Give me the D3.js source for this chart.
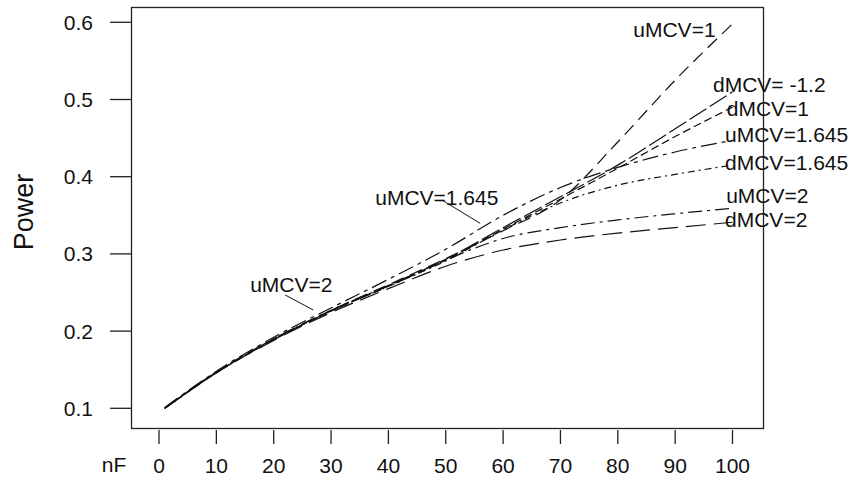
<!DOCTYPE html>
<html>
<head>
<meta charset="utf-8">
<script src="https://cdn.jsdelivr.net/npm/d3@7"></script>
<style>
  body { margin: 0; background: #fff; }
  svg text { font-family: "Liberation Sans", Arial, sans-serif; fill: #111; }
</style>
</head>
<body>
<svg id="chart" width="857" height="481"></svg>
<script>
// x positions (nF) shared by every series
const nF = [1, 10, 20, 30, 40, 50, 60, 70, 80, 90, 100];

// power values
const uMCV1    = [0.100, 0.147, 0.190, 0.227, 0.260, 0.294, 0.330, 0.370, 0.445, 0.525, 0.598];
const dMCVm12  = [0.100, 0.146, 0.189, 0.226, 0.259, 0.293, 0.334, 0.374, 0.415, 0.462, 0.510];
const dMCV1    = [0.100, 0.146, 0.189, 0.226, 0.258, 0.292, 0.332, 0.371, 0.411, 0.452, 0.490];
const uMCV1645 = [0.101, 0.148, 0.192, 0.230, 0.267, 0.306, 0.350, 0.386, 0.412, 0.432, 0.447];
const dMCV1645 = [0.100, 0.146, 0.189, 0.226, 0.258, 0.291, 0.331, 0.366, 0.389, 0.403, 0.415];
const uMCV2    = [0.100, 0.147, 0.190, 0.227, 0.259, 0.292, 0.320, 0.334, 0.344, 0.352, 0.359];
const dMCV2    = [0.100, 0.146, 0.188, 0.224, 0.255, 0.284, 0.305, 0.318, 0.327, 0.334, 0.341];

const xTicks = [0, 10, 20, 30, 40, 50, 60, 70, 80, 90, 100];
const yTicks = [0.1, 0.2, 0.3, 0.4, 0.5, 0.6];

// end-of-line labels: [text, nF, power]
const endLabels = [
  ["uMCV=1", 82.7, 0.581],
  ["dMCV= -1.2", 96.6, 0.5095],
  ["dMCV=1", 99.0, 0.479],
  ["uMCV=1.645", 98.7, 0.4453],
  ["dMCV=1.645", 98.7, 0.4087],
  ["uMCV=2", 98.9, 0.3655],
  ["dMCV=2", 98.7, 0.3352]
];
// inline labels with leader: [text, nF, power, leader from, leader to]
const calloutLabels = [
  ["uMCV=2", 15.9, 0.251, [22.0, 0.2468], [26.9, 0.2273]],
  ["uMCV=1.645", 37.7, 0.3633, [49.3, 0.3699], [56.0, 0.3396]]
];

const series = [
  { values: uMCV1, dash: "13,7" },
  { values: dMCVm12, dash: "20,4" },
  { values: dMCV1, dash: "8,4" },
  { values: uMCV1645, dash: "16,5,4,5" },
  { values: dMCV1645, dash: "7,4,2,4" },
  { values: uMCV2, dash: "14,5,3,5" },
  { values: dMCV2, dash: "20,8" }
];

const svg = d3.select("#chart");
const box = { left: 131.5, top: 7.5, right: 763.5, bottom: 428.5 };

const x = d3.scaleLinear().domain([0, 100]).range([159, 732.5]);
const y = d3.scaleLinear().domain([0.1, 0.6]).range([408.3, 22.3]);

// plot frame
svg.append("rect")
  .attr("x", box.left).attr("y", box.top)
  .attr("width", box.right - box.left).attr("height", box.bottom - box.top)
  .attr("fill", "none").attr("stroke", "#222").attr("stroke-width", 1.3);

// y axis ticks + labels
const yAxis = svg.append("g");
yTicks.forEach(t => {
  yAxis.append("line")
    .attr("x1", 110).attr("x2", box.left)
    .attr("y1", y(t)).attr("y2", y(t))
    .attr("stroke", "#222").attr("stroke-width", 1.3);
  yAxis.append("text")
    .attr("x", 93).attr("y", y(t) + 7.5)
    .attr("text-anchor", "end").style("font-size", "21px")
    .text(d3.format(".1f")(t));
});

// x axis ticks + labels
const xAxis = svg.append("g");
xTicks.forEach(t => {
  xAxis.append("line")
    .attr("x1", x(t)).attr("x2", x(t))
    .attr("y1", 430).attr("y2", 444)
    .attr("stroke", "#222").attr("stroke-width", 1.3);
  xAxis.append("text")
    .attr("x", x(t)).attr("y", 473)
    .attr("text-anchor", "middle").style("font-size", "21px")
    .text(t);
});
xAxis.append("text")
  .attr("x", 114).attr("y", 472)
  .attr("text-anchor", "middle").style("font-size", "21px")
  .text("nF");

// y title
svg.append("text")
  .attr("transform", "translate(33,212) rotate(-90)")
  .attr("text-anchor", "middle").style("font-size", "27px")
  .text("Power");

// curves
const line = d3.line()
  .x((d, i) => x(nF[i]))
  .y(d => y(d))
  .curve(d3.curveMonotoneX);

svg.append("g").selectAll("path")
  .data(series)
  .join("path")
  .attr("d", d => line(d.values))
  .attr("fill", "none")
  .attr("stroke", "#111")
  .attr("stroke-width", 1.2)
  .attr("stroke-dasharray", d => d.dash);

// labels
endLabels.forEach(([txt, a, b]) => {
  svg.append("text")
    .attr("x", x(a)).attr("y", y(b))
    .style("font-size", "21px")
    .text(txt);
});
calloutLabels.forEach(([txt, a, b, p0, p1]) => {
  svg.append("text")
    .attr("x", x(a)).attr("y", y(b))
    .style("font-size", "21px")
    .text(txt);
  svg.append("line")
    .attr("x1", x(p0[0])).attr("y1", y(p0[1]))
    .attr("x2", x(p1[0])).attr("y2", y(p1[1]))
    .attr("stroke", "#111").attr("stroke-width", 1);
});
</script>
</body>
</html>
